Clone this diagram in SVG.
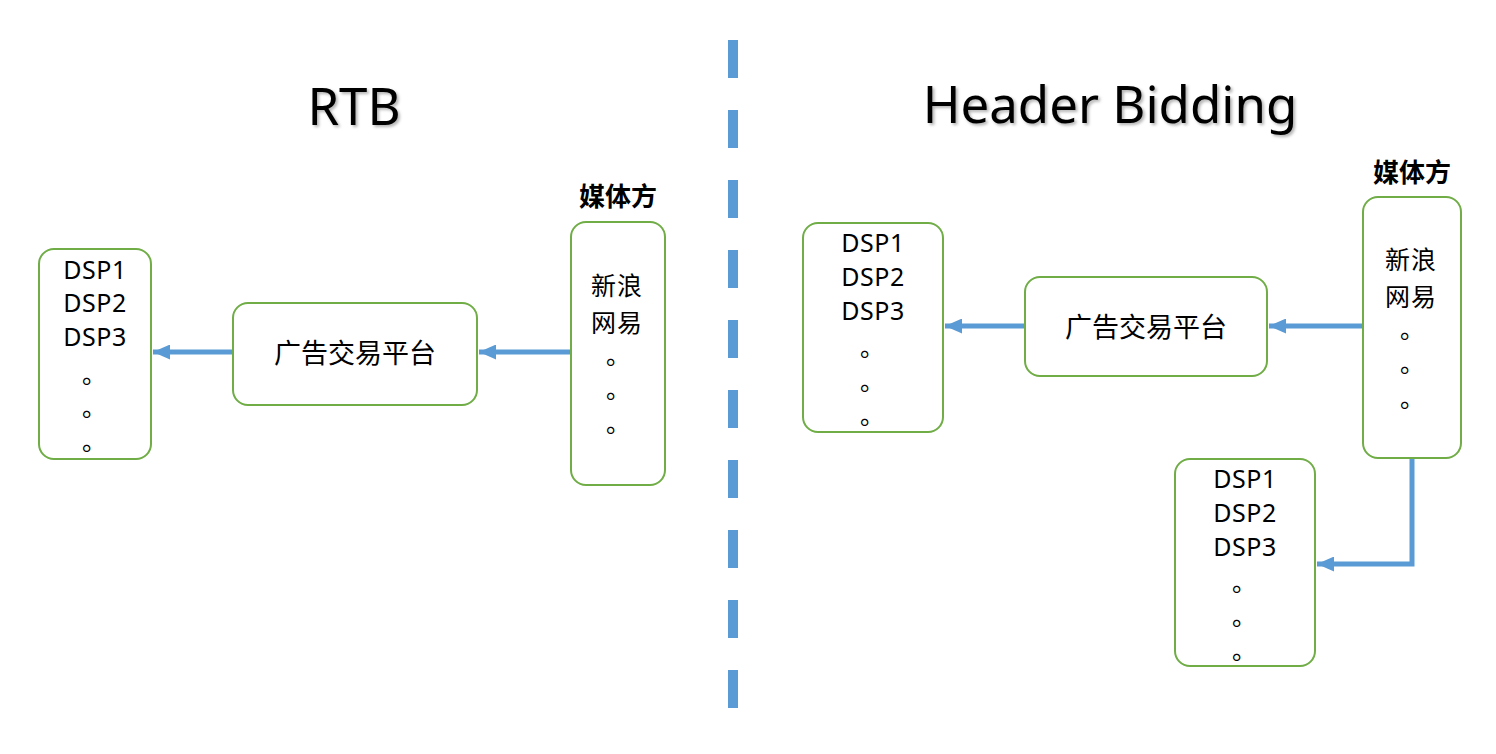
<svg xmlns="http://www.w3.org/2000/svg" width="1496" height="754" viewBox="0 0 1496 754">
<defs>
<style>
.box{fill:#fff;stroke:#70AD47;stroke-width:2}
.conn{fill:none;stroke:#5B9BD5;stroke-width:5}
.t{font-family:"Noto Sans","Noto Sans CJK SC",sans-serif;font-size:25px;fill:#000;text-anchor:middle;letter-spacing:0.5px}
.c{font-family:"Noto Sans CJK SC",sans-serif;font-size:27px;fill:#000;text-anchor:middle}
.m{font-family:"Noto Sans CJK SC",sans-serif;font-size:25px;fill:#000;text-anchor:middle;letter-spacing:1px}
.d{font-family:"Noto Sans CJK SC",sans-serif;font-size:24px;fill:#000;text-anchor:middle}
.lbl{font-family:"Noto Sans CJK SC",sans-serif;font-size:26px;font-weight:bold;fill:#000;text-anchor:middle}
.title{font-family:"Noto Sans",sans-serif;font-size:51px;fill:#000;text-anchor:middle;filter:url(#sh)}
</style>
<filter id="sh" x="-10%" y="-20%" width="120%" height="150%">
<feDropShadow dx="2" dy="2" stdDeviation="1.5" flood-color="#000" flood-opacity="0.3"/>
</filter>
<marker id="ah" markerWidth="17" markerHeight="15" refX="17" refY="7.5" orient="auto" markerUnits="userSpaceOnUse">
<path d="M0,0 L17,7.5 L0,15 Z" fill="#5B9BD5"/>
</marker>
</defs>
<rect width="1496" height="754" fill="#fff"/>

<g id="divider">
<line x1="733" y1="40" x2="733" y2="708" stroke="#5B9BD5" stroke-width="10" stroke-dasharray="38 32"/>
</g>

<g id="titles">
<text class="title" x="354" y="125">RTB</text>
<text class="title" x="1110" y="123">Header Bidding</text>
</g>

<g id="connectors">
<line class="conn" x1="571" y1="352" x2="479" y2="352" marker-end="url(#ah)"/>
<line class="conn" x1="233" y1="352" x2="153" y2="352" marker-end="url(#ah)"/>
<line class="conn" x1="1363" y1="326" x2="1269" y2="326" marker-end="url(#ah)"/>
<line class="conn" x1="1025" y1="326" x2="945" y2="326" marker-end="url(#ah)"/>
<polyline class="conn" points="1412,458 1412,564 1317,564" marker-end="url(#ah)"/>
</g>

<g id="left-dsp">
<rect class="box" x="39" y="249" width="112" height="210" rx="15"/>
<text class="t" x="95" y="279">DSP1</text>
<text class="t" x="95" y="312">DSP2</text>
<text class="t" x="95" y="346">DSP3</text>
<text class="d" x="94" y="383">。</text>
<text class="d" x="94" y="416">。</text>
<text class="d" x="94" y="450">。</text>
</g>

<g id="left-adx">
<rect class="box" x="233" y="303" width="244" height="102" rx="15"/>
<text class="c" x="355" y="363">广告交易平台</text>
</g>

<g id="left-media">
<text class="lbl" x="618" y="206">媒体方</text>
<rect class="box" x="571" y="222" width="94" height="263" rx="15"/>
<text class="m" x="617" y="295">新浪</text>
<text class="m" x="617" y="332">网易</text>
<text class="d" x="618" y="364">。</text>
<text class="d" x="618" y="398">。</text>
<text class="d" x="618" y="432">。</text>
</g>

<g id="right-dsp">
<rect class="box" x="803" y="223" width="140" height="209" rx="15"/>
<text class="t" x="873" y="252">DSP1</text>
<text class="t" x="873" y="286">DSP2</text>
<text class="t" x="873" y="320">DSP3</text>
<text class="d" x="872" y="356">。</text>
<text class="d" x="872" y="390">。</text>
<text class="d" x="872" y="424">。</text>
</g>

<g id="right-adx">
<rect class="box" x="1025" y="277" width="242" height="99" rx="15"/>
<text class="c" x="1146" y="337">广告交易平台</text>
</g>

<g id="right-media">
<text class="lbl" x="1412" y="182">媒体方</text>
<rect class="box" x="1363" y="197" width="98" height="261" rx="15"/>
<text class="m" x="1411" y="269">新浪</text>
<text class="m" x="1411" y="306">网易</text>
<text class="d" x="1412" y="338">。</text>
<text class="d" x="1412" y="372">。</text>
<text class="d" x="1412" y="407">。</text>
</g>

<g id="bottom-dsp">
<rect class="box" x="1175" y="459" width="140" height="207" rx="15"/>
<text class="t" x="1245" y="488">DSP1</text>
<text class="t" x="1245" y="522">DSP2</text>
<text class="t" x="1245" y="556">DSP3</text>
<text class="d" x="1244" y="591">。</text>
<text class="d" x="1244" y="625">。</text>
<text class="d" x="1244" y="659">。</text>
</g>
</svg>
